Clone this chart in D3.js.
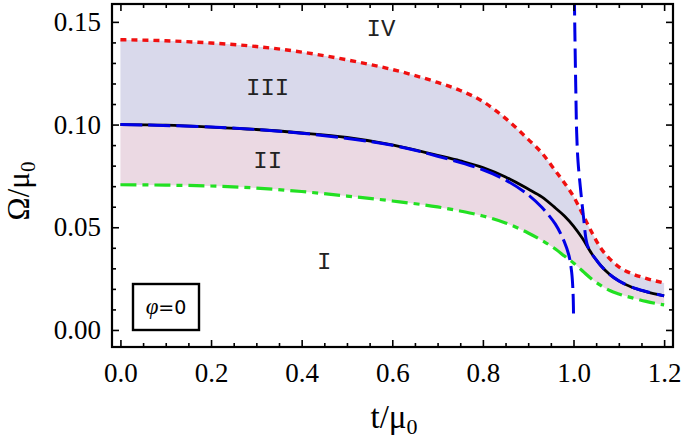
<!DOCTYPE html>
<html>
<head>
<meta charset="utf-8">
<script src="https://cdn.jsdelivr.net/npm/d3@7"></script>
<style>
  html, body { margin: 0; padding: 0; background: #ffffff; }
  svg { display: block; }
</style>
</head>
<body>
<svg id="chart" width="685" height="441"></svg>
<script>
// ---------------- data ----------------
const tGrid = [0, 0.1, 0.2, 0.3, 0.4, 0.5, 0.6, 0.7, 0.75, 0.8, 0.85, 0.9, 0.93, 0.96, 0.98, 1.0, 1.02, 1.04, 1.06, 1.08, 1.1, 1.13, 1.16, 1.2];
// black solid (exact)
const omegaExact = [0.1000, 0.0997, 0.0988, 0.0976, 0.0959, 0.0937, 0.0901, 0.0850, 0.0823, 0.0791, 0.0745, 0.0686, 0.0648, 0.0594, 0.0555, 0.0506, 0.0445, 0.0372, 0.0314, 0.0270, 0.0239, 0.0207, 0.0187, 0.0166];
// red dotted (upper boundary III/IV)
const omegaUpper = [0.1413, 0.1408, 0.1397, 0.1380, 0.1353, 0.1315, 0.1268, 0.1205, 0.1166, 0.1112, 0.1030, 0.0928, 0.0862, 0.0775, 0.0716, 0.0650, 0.0565, 0.0477, 0.0399, 0.0346, 0.0307, 0.0273, 0.0251, 0.0229];
// green dash-dotted (lower boundary I/II)
const omegaLower = [0.0707, 0.0705, 0.0701, 0.0691, 0.0674, 0.0652, 0.0628, 0.0599, 0.0579, 0.0555, 0.0521, 0.0472, 0.0436, 0.0394, 0.0360, 0.0326, 0.0287, 0.0248, 0.0217, 0.0192, 0.0175, 0.0156, 0.0139, 0.0122];
// blue dashed approximation, branch t < 1
const blueLowT = [0, 0.2, 0.4, 0.6, 0.7, 0.8, 0.85, 0.9, 0.93, 0.96, 0.98, 0.99, 0.996, 0.999, 1.0];
const blueLowVals = [0.1000, 0.0988, 0.0958, 0.0899, 0.0846, 0.0780, 0.0730, 0.0658, 0.0597, 0.0515, 0.0428, 0.0362, 0.0280, 0.0180, 0.0080];
// blue dashed approximation, branch t > 1
const blueHighT = [1.0012, 1.003, 1.005, 1.007, 1.010, 1.015, 1.022, 1.03, 1.04, 1.05, 1.06, 1.08, 1.1, 1.13, 1.16, 1.2];
const blueHighVals = [0.175, 0.145, 0.118, 0.096, 0.082, 0.0698, 0.0552, 0.0418, 0.0372, 0.0342, 0.0314, 0.0270, 0.0239, 0.0207, 0.0187, 0.0166];

const xTicks = [0, 0.2, 0.4, 0.6, 0.8, 1.0, 1.2];
const yTicks = [0, 0.05, 0.10, 0.15];
const regionLabels = ["IV", "III", "II", "I"];
const regionPos = [[0.575, 0.1465], [0.325, 0.1175], [0.325, 0.082], [0.45, 0.0330]];

// ---------------- layout ----------------
const SERIF = "Liberation Serif";
const MONO = "Liberation Mono";
const SANS = "DejaVu Sans";
const svg = d3.select("#chart");
const X0 = 112, X1 = 673, Y0 = 4, Y1 = 347;
const x = d3.scaleLinear().domain([-0.0186, 1.2196]).range([X0, X1]);
const y = d3.scaleLinear().domain([-0.0083, 0.1587]).range([Y1, Y0]);

const defs = svg.append("defs");
defs.append("clipPath").attr("id", "clip")
  .append("rect").attr("x", X0).attr("y", Y0).attr("width", X1 - X0).attr("height", Y1 - Y0);

const plot = svg.append("g").attr("clip-path", "url(#clip)");

const pts = (ts, vs) => ts.map((t, i) => [t, vs[i]]);

// fills
const areaII = d3.area().x((d, i) => x(tGrid[i])).y0((d, i) => y(omegaLower[i])).y1((d, i) => y(omegaExact[i])).curve(d3.curveMonotoneX);
const areaIII = d3.area().x((d, i) => x(tGrid[i])).y0((d, i) => y(omegaExact[i])).y1((d, i) => y(omegaUpper[i])).curve(d3.curveMonotoneX);
plot.append("path").datum(tGrid).attr("d", areaII).attr("fill", "#ebd9e3");
plot.append("path").datum(tGrid).attr("d", areaIII).attr("fill", "#d9d9eb");

const lineM = d3.line().x(d => x(d[0])).y(d => y(d[1])).curve(d3.curveMonotoneX);
const lineC = d3.line().x(d => x(d[0])).y(d => y(d[1])).curve(d3.curveCatmullRom.alpha(0.5));

plot.append("path").attr("d", lineM(pts(tGrid, omegaLower)))
  .attr("fill", "none").attr("stroke", "#22e022").attr("stroke-width", 3.2)
  .attr("stroke-dasharray", "16,6,6,6");
plot.append("path").attr("d", lineM(pts(tGrid, omegaUpper)))
  .attr("fill", "none").attr("stroke", "#f01010").attr("stroke-width", 3.4)
  .attr("stroke-dasharray", "6,5");
plot.append("path").attr("d", lineM(pts(tGrid, omegaExact)))
  .attr("fill", "none").attr("stroke", "#000000").attr("stroke-width", 2.8);
plot.append("path").attr("d", lineC(pts(blueLowT, blueLowVals)))
  .attr("fill", "none").attr("stroke", "#0000e6").attr("stroke-width", 3)
  .attr("stroke-dasharray", "22,6");
plot.append("path").attr("d", lineC(pts(blueHighT, blueHighVals)))
  .attr("fill", "none").attr("stroke", "#0000e6").attr("stroke-width", 3)
  .attr("stroke-dasharray", "19,7");

// region labels
svg.append("g").selectAll("text").data(regionLabels).join("text")
  .attr("x", (d, i) => x(regionPos[i][0]))
  .attr("y", (d, i) => y(regionPos[i][1]))
  .attr("text-anchor", "middle").attr("dominant-baseline", "central")
  .attr("font-family", MONO).attr("font-size", 24)
  .attr("fill", "#222").text(d => d);

// axes (ticks inward, all four sides)
const xMinor = d3.range(0, 1.2001, 0.05).filter(v => !xTicks.some(t => Math.abs(t - v) < 1e-6));
const yMinor = d3.range(0, 0.1551, 0.01).filter(v => !yTicks.some(t => Math.abs(t - v) < 1e-6));

function styleAxis(g) {
  g.attr("font-family", SERIF).attr("font-size", 27);
  g.select(".domain").remove();
  g.selectAll(".tick line").attr("stroke", "#000").attr("stroke-width", 1.6);
  g.selectAll("text").attr("font-family", SERIF).attr("font-size", 27).attr("fill", "#000");
}
svg.append("g").attr("transform", `translate(0,${Y1})`)
  .call(d3.axisBottom(x).tickValues(xTicks).tickSize(-7).tickPadding(16).tickFormat(d3.format(".1f"))).call(styleAxis);
svg.append("g").attr("transform", `translate(0,${Y1})`)
  .call(d3.axisBottom(x).tickValues(xMinor).tickSize(-4).tickFormat("")).call(styleAxis);
svg.append("g").attr("transform", `translate(0,${Y0})`)
  .call(d3.axisTop(x).tickValues(xTicks).tickSize(-7).tickFormat("")).call(styleAxis);
svg.append("g").attr("transform", `translate(0,${Y0})`)
  .call(d3.axisTop(x).tickValues(xMinor).tickSize(-4).tickFormat("")).call(styleAxis);
svg.append("g").attr("transform", `translate(${X0},0)`)
  .call(d3.axisLeft(y).tickValues(yTicks).tickSize(-7).tickPadding(11).tickFormat(d3.format(".2f"))).call(styleAxis);
svg.append("g").attr("transform", `translate(${X0},0)`)
  .call(d3.axisLeft(y).tickValues(yMinor).tickSize(-4).tickFormat("")).call(styleAxis);
svg.append("g").attr("transform", `translate(${X1},0)`)
  .call(d3.axisRight(y).tickValues(yTicks).tickSize(-7).tickFormat("")).call(styleAxis);
svg.append("g").attr("transform", `translate(${X1},0)`)
  .call(d3.axisRight(y).tickValues(yMinor).tickSize(-4).tickFormat("")).call(styleAxis);

// frame
svg.append("rect").attr("x", X0).attr("y", Y0).attr("width", X1 - X0).attr("height", Y1 - Y0)
  .attr("fill", "none").attr("stroke", "#000").attr("stroke-width", 2.2);

// legend box
const lg = svg.append("g");
lg.append("rect").attr("x", 133).attr("y", 284).attr("width", 66).attr("height", 46)
  .attr("fill", "#fff").attr("stroke", "#000").attr("stroke-width", 2.4);
const lt = lg.append("text").attr("x", 166).attr("y", 314).attr("text-anchor", "middle")
  .attr("font-family", SANS).attr("font-size", 19).attr("fill", "#000");
lt.append("tspan").attr("font-family", SERIF).attr("font-style", "italic").attr("font-size", 23).text("φ");
lt.append("tspan").text("=0");

// axis titles
const xt = svg.append("text").attr("x", 394).attr("y", 428).attr("text-anchor", "middle")
  .attr("font-family", SERIF).attr("font-size", 33).attr("fill", "#000");
xt.append("tspan").text("t/μ");
xt.append("tspan").attr("font-size", 22).attr("dy", 6).text("0");

const yt = svg.append("text").attr("transform", "translate(29,191) rotate(-90)").attr("text-anchor", "middle")
  .attr("font-family", SERIF).attr("font-size", 31).attr("fill", "#000");
yt.append("tspan").text("Ω/μ");
yt.append("tspan").attr("font-size", 21).attr("dy", 6).text("0");
</script>
</body>
</html>
